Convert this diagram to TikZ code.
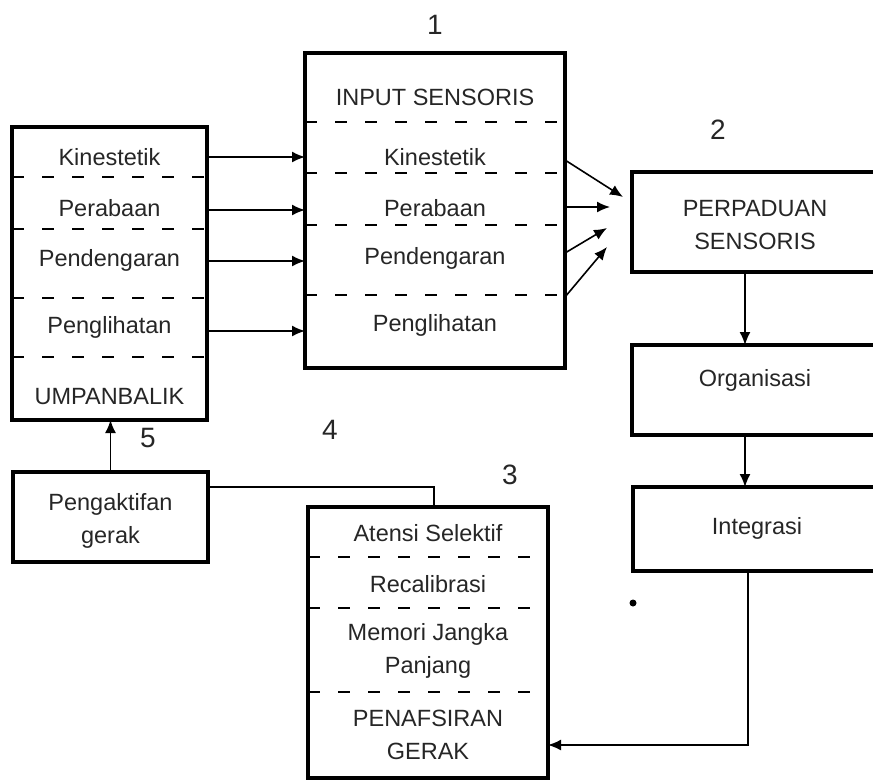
\documentclass[tikz,border=0pt]{standalone}
\usepackage{fontspec}
\setmainfont{Liberation Sans}
\usetikzlibrary{arrows.meta,calc}
\begin{document}
\begin{tikzpicture}[x=1pt,y=-1pt,
  box/.style={draw, line width=3.5pt, rectangle, inner sep=0pt, outer sep=0pt, align=center},
  lbl/.style={text=black!85, font=\fontsize{23.5}{33}\selectfont, align=center, inner sep=0pt},
  num/.style={text=black!85, font=\fontsize{28}{30}\selectfont, inner sep=0pt},
  sep/.style={line width=1.6pt, dash pattern=on 12pt off 18pt},
  arr/.style={line width=1.6pt, -{Latex[length=13pt,width=11pt]}},
  lin/.style={line width=1.6pt}]
\useasboundingbox (0,0) rectangle (873,780);

% boxes
\node[box, minimum width=195pt, minimum height=293pt] (fb) at (109.5,273.5) {};
\node[box, minimum width=260pt, minimum height=315pt] (in) at (435,210.5) {};
\node[box, minimum width=246pt, minimum height=100pt] (pp) at (755,222) {};
\node[box, minimum width=246pt, minimum height=90pt] (org) at (755,390) {};
\node[box, minimum width=246pt, minimum height=84pt] (int) at (756,529) {};
\node[box, minimum width=195pt, minimum height=90pt] (act) at (110.5,517) {};
\node[box, minimum width=240pt, minimum height=271pt] (pg) at (428,642.5) {};

% dashed separators
\foreach \yy in {177,229,298,357} \draw[sep] (fb.west |- 0,\yy) -- (fb.east |- 0,\yy);
\foreach \yy in {122,173,225,295} \draw[sep] (in.west |- 0,\yy) -- (in.east |- 0,\yy);
\foreach \yy in {557,608,692} \draw[sep] (pg.west |- 0,\yy) -- (pg.east |- 0,\yy);

% texts: feedback box
\node[lbl] (fk) at (109.5,157) {Kinestetik};
\node[lbl] (fr) at (109.5,208) {Perabaan};
\node[lbl] (fd) at (109.5,260) {Pendengaran};
\node[lbl] (fl) at (109.5,327) {Penglihatan};
\node[lbl] (fu) at (109.5,397) {UMPANBALIK};
% input box
\node[lbl] (it) at (435,97) {INPUT SENSORIS};
\node[lbl] (ik) at (435,157) {Kinestetik};
\node[lbl] (ir) at (435,208) {Perabaan};
\node[lbl] (id) at (435,258) {Pendengaran};
\node[lbl] (il) at (435,325) {Penglihatan};
% right column
\node[lbl] (ppt) at (755,225) {PERPADUAN\\SENSORIS};
\node[lbl] (orgt) at (755,380) {Organisasi};
\node[lbl] (intt) at (757,528) {Integrasi};
% activation
\node[lbl] (actt) at (110.5,521) {Pengaktifan\\gerak};
% box 3
\node[lbl] (pa) at (428,533) {Atensi Selektif};
\node[lbl] (pr) at (428,584) {Recalibrasi};
\node[lbl] (pm) at (428,651) {Memori Jangka\\Panjang};
\node[lbl] (pt) at (428,735) {PENAFSIRAN\\GERAK};

% numbers
\node[num] (n1) at (435,25) {1};
\node[num] (n2) at (718,130) {2};
\node[num] (n3) at (510,475) {3};
\node[num] (n4) at (330,430) {4};
\node[num] (n5) at (148,438) {5};

% arrows feedback -> input
\foreach \yy in {157,210,261,331} \draw[arr] (fb.east |- 0,\yy) -- (in.west |- 0,\yy);

% fan into perpaduan
\coordinate (t1) at (623,197);
\coordinate (t2) at (610,207);
\coordinate (t3) at (607,228);
\coordinate (t4) at (607,247);
\draw[arr] (in.east |- 0,160) -- (t1);
\draw[arr] (in.east |- 0,207) -- (t2);
\draw[arr] (in.east |- 0,253) -- (t3);
\draw[arr] (in.east |- 0,297) -- (t4);

% vertical chain
\coordinate (vx) at (745,0);
\draw[arr] (pp.south -| vx) -- (org.north -| vx);
\draw[arr] (org.south -| vx) -- (int.north -| vx);

% integrasi -> penafsiran
\coordinate (bend) at (748,745);
\draw[arr] (int.south -| bend) -- (bend) -- (pg.east |- bend);

% box 3 -> activation
\coordinate (k4) at (434,487);
\draw[lin] (k4 |- pg.north) -- (k4) -- (act.east |- k4);

% activation -> feedback
\draw[arr] (act.north) -- (act.north |- fb.south);

% stray mark
\fill (633,603) circle (3.5pt);
\end{tikzpicture}
\end{document}
